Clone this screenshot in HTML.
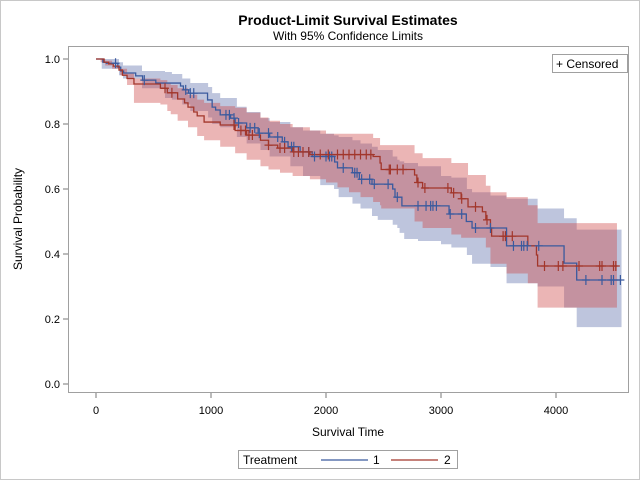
<!DOCTYPE html>
<html><head><meta charset="utf-8"><style>
html,body{margin:0;padding:0;background:#fff}
svg{display:block;font-family:"Liberation Sans",Arial,sans-serif}
</style></head><body>
<svg id="chart" width="640" height="480" viewBox="0 0 640 480">
<rect x="0.5" y="0.5" width="639" height="479" fill="#fff" stroke="#c8c8c8"/>
<text x="348" y="25" text-anchor="middle" font-size="14" font-weight="bold">Product-Limit Survival Estimates</text>
<text x="348" y="40" text-anchor="middle" font-size="12">With 95% Confidence Limits</text>
<g id="bands"></g><g id="lines"></g><g id="censors"></g>
<rect x="68.5" y="46.5" width="560" height="346" fill="none" stroke="#a0a0a0"/>
<g id="axes"></g>
<text x="22" y="219" text-anchor="middle" font-size="12" transform="rotate(-90 22 219)">Survival Probability</text>
<text x="348" y="436" text-anchor="middle" font-size="12">Survival Time</text>
<g>
<rect x="552.5" y="54.5" width="75" height="18" fill="#fff" stroke="#a0a0a0"/>
<text x="556" y="68" font-size="12">+ Censored</text></g>
<g>
<rect x="238.5" y="450.5" width="219" height="18" fill="#fff" stroke="#a0a0a0"/>
<text x="243" y="464" font-size="12">Treatment</text>
<line x1="321" y1="460" x2="368" y2="460" stroke="#3a5a9e" stroke-width="1.3"/>
<text x="373" y="464" font-size="12">1</text>
<line x1="391" y1="460" x2="438" y2="460" stroke="#a2362b" stroke-width="1.3"/>
<text x="444" y="464" font-size="12">2</text></g>
</svg>
<script>
const xTicks=[0,1000,2000,3000,4000];
const yTicks=[0.0,0.2,0.4,0.6,0.8,1.0];
const t1=[0,60,90,190,215,240,345,405,520,735,760,805,970,1010,1040,1080,1170,1210,1310,1410,1510,1620,1670,1775,1880,2075,2100,2230,2290,2400,2580,2600,2660,3070,3220,3270,3570,4070,4180];
const s1=[1,0.99,0.987,0.975,0.963,0.957,0.948,0.935,0.926,0.917,0.905,0.895,0.874,0.852,0.843,0.828,0.818,0.803,0.788,0.772,0.76,0.745,0.73,0.714,0.70,0.683,0.665,0.65,0.63,0.615,0.60,0.575,0.548,0.523,0.50,0.48,0.425,0.372,0.32];
const end1=4560;
const t2=[0,70,110,150,200,230,270,330,560,620,710,770,800,850,880,940,1080,1210,1310,1430,1500,1580,1710,1860,2410,2470,2480,2770,2790,2840,3090,3175,3235,3360,3390,3430,3440,3755,3830,3840];
const s2=[1,0.99,0.985,0.978,0.966,0.95,0.94,0.923,0.91,0.896,0.877,0.865,0.852,0.837,0.825,0.806,0.797,0.78,0.766,0.75,0.735,0.726,0.714,0.706,0.70,0.68,0.66,0.643,0.62,0.603,0.588,0.57,0.545,0.53,0.505,0.48,0.455,0.425,0.397,0.363];
const end2=4530;
const bt1=[50,200,235,400,600,660,750,820,975,1010,1080,1225,1310,1430,1510,1690,1800,1950,2070,2110,2230,2300,2400,2450,2580,2620,2640,2680,2800,3000,3090,3225,3270,3430,3570,3840,4070,4180];
const hi1=[1.0,0.99,0.98,0.963,0.96,0.954,0.94,0.926,0.914,0.895,0.88,0.853,0.837,0.818,0.806,0.79,0.78,0.77,0.765,0.76,0.75,0.74,0.73,0.72,0.70,0.69,0.685,0.68,0.67,0.64,0.635,0.60,0.59,0.58,0.57,0.54,0.51,0.475];
const lo1=[0.97,0.95,0.94,0.91,0.88,0.875,0.86,0.84,0.82,0.80,0.79,0.76,0.74,0.72,0.70,0.67,0.64,0.612,0.60,0.575,0.555,0.54,0.517,0.505,0.49,0.48,0.465,0.446,0.44,0.43,0.42,0.397,0.37,0.36,0.31,0.30,0.235,0.175];
const bt2=[40,80,140,210,270,330,560,620,650,710,800,880,940,1080,1210,1310,1430,1500,1600,1710,1860,2000,2100,2200,2300,2410,2470,2480,2770,2840,3090,3175,3235,3390,3430,3570,3755,3840];
const hi2=[1.0,0.995,0.98,0.97,0.955,0.94,0.935,0.925,0.92,0.91,0.89,0.875,0.865,0.855,0.85,0.835,0.82,0.81,0.80,0.79,0.78,0.77,0.77,0.77,0.77,0.757,0.735,0.735,0.71,0.695,0.68,0.68,0.643,0.61,0.59,0.575,0.55,0.495];
const lo2=[0.99,0.98,0.97,0.95,0.92,0.865,0.86,0.84,0.83,0.81,0.79,0.763,0.75,0.73,0.71,0.69,0.67,0.66,0.65,0.64,0.63,0.62,0.605,0.59,0.575,0.56,0.55,0.54,0.50,0.48,0.46,0.45,0.45,0.42,0.37,0.34,0.31,0.235];
const c1=[170,420,780,820,850,1130,1160,1200,1240,1340,1380,1420,1500,1580,1640,1700,1720,1850,1900,2000,2030,2050,2150,2250,2270,2310,2380,2420,2540,2620,2800,2870,2910,2930,2960,3080,3180,3300,3430,3630,3700,3720,3750,3850,4260,4400,4480,4500,4560];
const c2=[600,660,1200,1260,1300,1330,1360,1500,1600,1640,1720,1760,1800,1850,1950,2020,2100,2150,2200,2250,2300,2350,2390,2550,2560,2620,2670,2800,2860,3060,3110,3180,3300,3400,3540,3560,3620,3900,4020,4060,4200,4380,4400,4500,4520];
const X=t=>96+t*0.1150, Y=s=>384-s*325;
const NS='http://www.w3.org/2000/svg';
function mk(tag,attrs,parent){const e=document.createElementNS(NS,tag);for(const k in attrs)e.setAttribute(k,attrs[k]);parent.appendChild(e);return e;}
const axes=document.getElementById('axes');
xTicks.forEach(v=>{
 const l=mk('line',{x1:X(v),x2:X(v),y1:393,y2:398,stroke:'#777'},axes);
 
 
 const t=mk('text',{x:X(v),y:414,'text-anchor':'middle','font-size':11},axes);t.textContent=v;
 
 
});
yTicks.forEach(v=>{
 const l=mk('line',{x1:63,x2:68,y1:Y(v),y2:Y(v),stroke:'#777'},axes);
 
 
 const t=mk('text',{x:60,y:Y(v)+4,'text-anchor':'end','font-size':11},axes);t.textContent=v.toFixed(1);
 
 
});
function stepPath(ts,ss,end){let d='M'+X(ts[0])+','+Y(ss[0]);for(let i=1;i<ts.length;i++){d+='H'+X(ts[i])+'V'+Y(ss[i]);}d+='H'+X(end);return d;}
function bandPath(ts,lo,hi,end){let d='M'+X(ts[0])+','+Y(hi[0]);for(let i=1;i<ts.length;i++)d+='H'+X(ts[i])+'V'+Y(hi[i]);d+='H'+X(end)+'V'+Y(lo[lo.length-1]);for(let i=ts.length-1;i>0;i--)d+='H'+X(ts[i])+'V'+Y(lo[i-1]);d+='H'+X(ts[0])+'Z';return d;}
const bands=document.getElementById('bands');
const b1=mk('path',{d:bandPath(bt1,lo1,hi1,end1+10),fill:'#bec5dd'},bands);


const b2=mk('path',{d:bandPath(bt2,lo2,hi2,end2),fill:'rgb(205,70,70)','fill-opacity':0.4},bands);


const lines=document.getElementById('lines');
const l1=mk('path',{d:stepPath(t1,s1,end1),fill:'none',stroke:'#3a5a9e','stroke-width':1.3},lines);


const l2=mk('path',{d:stepPath(t2,s2,end2),fill:'none',stroke:'#a2362b','stroke-width':1.3},lines);


function sAt(ts,ss,t){let s=ss[0];for(let i=0;i<ts.length;i++){if(ts[i]<=t)s=ss[i];}return s;}
const cg=document.getElementById('censors');
function cens(cs,ts,ss,col,name){cs.forEach(t=>{const x=X(t),y=Y(sAt(ts,ss,t));
 const p=mk('path',{d:`M${x-4},${y}H${x+4}M${x},${y-5}V${y+5}`,stroke:col,'stroke-width':1.2},cg);
 
 });}
cens(c1,t1,s1,'#3a5a9e','censor-mark-1');
cens(c2,t2,s2,'#a2362b','censor-mark-2');
</script>
</body></html>
